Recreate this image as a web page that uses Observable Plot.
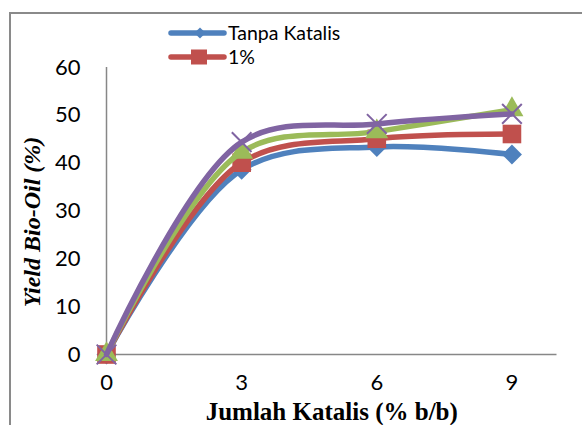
<!DOCTYPE html>
<html>
<head>
<meta charset="utf-8">
<script src="https://cdn.jsdelivr.net/npm/d3@7"></script>
<script src="https://cdn.jsdelivr.net/npm/@observablehq/plot@0.6"></script>
<style>
  html, body { margin: 0; padding: 0; background: white; overflow: hidden; }
  #wrap { position: relative; width: 582px; height: 425px; }
  #frame { position: absolute; left: 9px; top: 12px; width: 700px; height: 500px;
           border-left: 2px solid #8a8a8a; border-top: 2px solid #8a8a8a; pointer-events: none; }
  #legend { position: absolute; left: 165px; top: 20px; }
</style>
</head>
<body>
<div id="wrap">
  <div id="chart"></div>
  <div id="frame"></div>
  <svg id="legend" width="220" height="52"></svg>
</div>
<script>
const katalis = [0, 3, 6, 9];
const seriesNames = ["Tanpa Katalis", "1%", "2%", "3%"];
const tanpaKatalis = [0, 38.6, 43.4, 41.8];
const satuPersen = [0, 40.1, 45.1, 46.1];
const duaPersen = [0, 42.3, 46.6, 51.2];
const tigaPersen = [0, 44.4, 48.2, 50.3];
const yTicks = [0, 10, 20, 30, 40, 50, 60];
const xTicks = [0, 3, 6, 9];

const colors = ["#4F81BD", "#C0504D", "#9BBB59", "#8064A2"];
const symbols = ["diamond2", "square", "triangle", "times"];
const radii = [9, 10.5, 8.5, 9];
const allValues = [tanpaKatalis, satuPersen, duaPersen, tigaPersen];

const marks = [
  Plot.ruleX([0], {stroke: "#878787", strokeWidth: 1.5}),
  Plot.ruleY([0], {stroke: "#878787", strokeWidth: 1.5}),
];
allValues.forEach((vals, i) => {
  const data = katalis.map((k, j) => ({x: k, y: vals[j], s: seriesNames[i]}));
  marks.push(Plot.line(data, {x: "x", y: "y", stroke: colors[i], strokeWidth: 5.5, curve: "catmull-rom"}));
  if (symbols[i] === "times") {
    marks.push(Plot.dot(data, {x: "x", y: "y", symbol: "times", stroke: colors[i], strokeWidth: 2, r: radii[i]}));
  } else {
    marks.push(Plot.dot(data, {x: "x", y: "y", symbol: symbols[i], fill: colors[i], stroke: "none", r: radii[i]}));
  }
});

marks.push(Plot.axisY({ticks: yTicks, tickSize: 0, tickPadding: 26, label: null}));
marks.push(Plot.axisX({ticks: xTicks, tickSize: 0, tickPadding: 20, label: null}));
marks.push(Plot.text(["Jumlah Katalis (% b/b)"], {
  frameAnchor: "bottom", dy: 65, text: d => d, fontFamily: "Liberation Serif",
  fontWeight: "bold", fontSize: 25, fill: "black", textAnchor: "middle"
}));
marks.push(Plot.text(["Yield Bio-Oil (%)"], {
  frameAnchor: "left", dx: -74, dy: 11, rotate: -90, text: d => d, fontFamily: "Liberation Serif",
  fontWeight: "bold", fontStyle: "italic", fontSize: 24, fill: "black", textAnchor: "middle"
}));

const chart = Plot.plot({
  width: 582,
  height: 425,
  marginLeft: 106,
  marginRight: 25.5,
  marginTop: 67,
  marginBottom: 71,
  x: {domain: [0, 10]},
  y: {domain: [0, 60]},
  style: {fontFamily: "Lato, sans-serif", fontSize: "22px", color: "black", background: "transparent", overflow: "visible"},
  marks
});
document.getElementById("chart").appendChild(chart);

// legend (only first two entries visible, as in the reference)
const lg = d3.select("#legend");
const legendItems = [0, 1];
legendItems.forEach((i, k) => {
  const y = 13 + k * 24;
  lg.append("line").attr("x1", 6).attr("x2", 59).attr("y1", y).attr("y2", y)
    .attr("stroke", colors[i]).attr("stroke-width", 5.5).attr("stroke-linecap", "round");
  if (i === 0) {
    lg.append("path").attr("d", d3.symbol(d3.symbolDiamond2, 80)()).attr("transform", `translate(35,${y})`).attr("fill", colors[i]);
  } else {
    lg.append("rect").attr("x", 26).attr("y", y - 7.5).attr("width", 16).attr("height", 15).attr("fill", colors[i]);
  }
  lg.append("text").attr("x", 63).attr("y", y + 7).text(seriesNames[i])
    .attr("font-family", "Lato, sans-serif").attr("font-size", 19.5).attr("fill", "black");
});
</script>
</body>
</html>
